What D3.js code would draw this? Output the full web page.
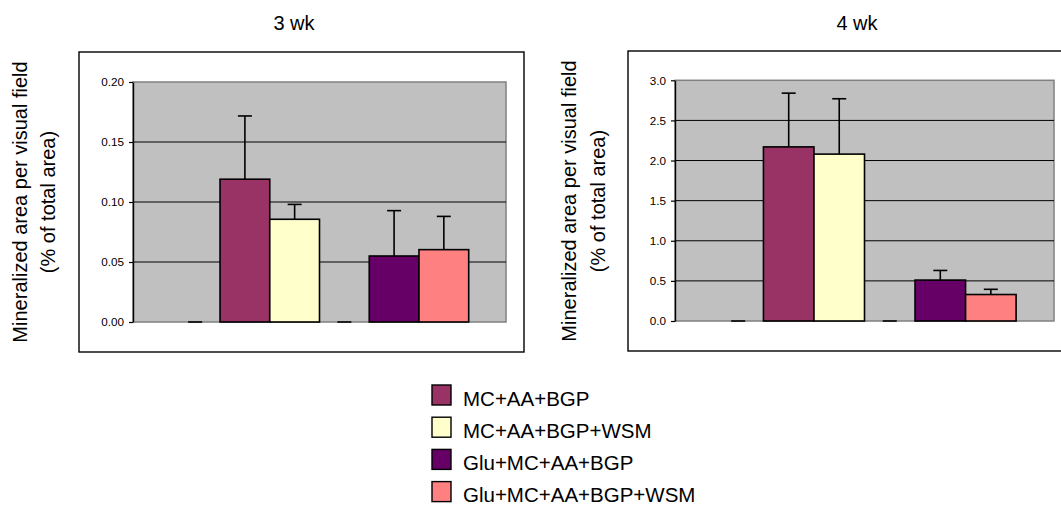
<!DOCTYPE html>
<html>
<head>
<meta charset="utf-8">
<script src="https://cdn.jsdelivr.net/npm/d3@7"></script>
<style>
  body { margin: 0; background: #fff; }
  svg { display: block; font-family: "Liberation Sans", Arial, sans-serif; }
</style>
</head>
<body>
<svg id="chart" width="1061" height="508"></svg>
<script>
// series in plot order, the two blank ones are zero placeholders (no legend entry)
const seriesNames = ["", "MC+AA+BGP", "MC+AA+BGP+WSM", "", "Glu+MC+AA+BGP", "Glu+MC+AA+BGP+WSM"];
const seriesColors = ["#c0c0c0", "#993366", "#ffffcc", "#c0c0c0", "#660066", "#ff8080"];

const wk3Values = [0, 0.119, 0.0856, 0, 0.055, 0.0603];
const wk3Errors = [0, 0.0527, 0.0124, 0, 0.0378, 0.0277];
const wk3Ticks = [0, 0.05, 0.10, 0.15, 0.20];

const wk4Values = [0, 2.17, 2.08, 0, 0.51, 0.33];
const wk4Errors = [0, 0.67, 0.69, 0, 0.12, 0.065];
const wk4Ticks = [0, 0.5, 1.0, 1.5, 2.0, 2.5, 3.0];

const yTitle = ["Mineralized area per visual field", "(% of total area)"];

const svg = d3.select("#chart");

function drawPanel(opt) {
    const g = svg.append("g");

    // outer chart box
    g.append("rect")
        .attr("x", opt.box[0]).attr("y", opt.box[1])
        .attr("width", opt.box[2]).attr("height", opt.box[3])
        .attr("fill", "#fff").attr("stroke", "#000").attr("stroke-width", 1.4);

    const x0 = opt.plot[0], y0 = opt.plot[1], w = opt.plot[2], h = opt.plot[3];

    const y = d3.scaleLinear().domain([0, opt.max]).range([y0 + h, y0]);
    const x = d3.scaleBand().domain(d3.range(opt.values.length))
        .range([x0, x0 + w]).paddingInner(0).paddingOuter(0.75);

    // plot area
    g.append("rect")
        .attr("x", x0).attr("y", y0).attr("width", w).attr("height", h)
        .attr("fill", "#c0c0c0").attr("stroke", "#808080").attr("stroke-width", 1.5);

    // gridlines
    g.selectAll(".grid")
        .data(opt.ticks.filter(t => t > 0 && t < opt.max))
        .enter().append("line")
        .attr("x1", x0).attr("x2", x0 + w)
        .attr("y1", d => y(d)).attr("y2", d => y(d))
        .attr("stroke", "#000").attr("stroke-width", 1);

    // bars
    g.selectAll(".bar")
        .data(opt.values.map((v, i) => ({v: v, i: i})).filter(d => d.v > 0))
        .enter().append("rect")
        .attr("x", d => x(d.i))
        .attr("y", d => y(d.v))
        .attr("width", x.bandwidth())
        .attr("height", d => y(0) - y(d.v))
        .attr("fill", d => seriesColors[d.i])
        .attr("stroke", "#000").attr("stroke-width", 1.6);

    // error bars (upper only)
    const errs = g.selectAll(".err")
        .data(opt.values.map((v, i) => ({v: v, e: opt.errors[i], i: i})))
        .enter().append("g");
    errs.append("line")
        .attr("x1", d => x(d.i) + x.bandwidth() / 2)
        .attr("x2", d => x(d.i) + x.bandwidth() / 2)
        .attr("y1", d => y(d.v)).attr("y2", d => y(d.v + d.e))
        .attr("stroke", "#000").attr("stroke-width", 1.6);
    errs.append("line")
        .attr("x1", d => x(d.i) + x.bandwidth() / 2 - 7)
        .attr("x2", d => x(d.i) + x.bandwidth() / 2 + 7)
        .attr("y1", d => y(d.v + d.e)).attr("y2", d => y(d.v + d.e))
        .attr("stroke", "#000").attr("stroke-width", 1.6);

    // y axis
    const axis = g.append("g")
        .attr("transform", "translate(" + x0 + ",0)")
        .call(d3.axisLeft(y).tickValues(opt.ticks).tickFormat(d3.format(opt.fmt))
            .tickSizeInner(4).tickSizeOuter(0).tickPadding(5));
    axis.select(".domain").attr("stroke", "#000").attr("stroke-width", 1.4);
    axis.selectAll(".tick line").attr("stroke", "#000").attr("stroke-width", 1.2);
    axis.selectAll(".tick text")
        .attr("font-family", "'Liberation Sans', Arial, sans-serif")
        .attr("font-size", 11.7).attr("fill", "#000");

    // axis title, two rotated lines
    g.selectAll(".ytitle")
        .data(yTitle)
        .enter().append("text")
        .attr("transform", (d, i) => "translate(" + opt.titleX[i] + "," + opt.titleY + ") rotate(-90)")
        .attr("text-anchor", "middle")
        .attr("font-size", 20)
        .attr("fill", "#000")
        .text(d => d);

    // chart title
    g.append("text")
        .attr("x", opt.headX).attr("y", 30)
        .attr("text-anchor", "middle")
        .attr("font-size", 20)
        .text(opt.head);
}

drawPanel({
    head: "3 wk", headX: 294,
    box: [79, 52, 445, 300],
    plot: [133, 82, 373, 240],
    max: 0.20, ticks: wk3Ticks, fmt: ".2f",
    values: wk3Values, errors: wk3Errors,
    titleX: [27, 55], titleY: 202
});

drawPanel({
    head: "4 wk", headX: 857,
    box: [628, 51, 440, 300],
    plot: [675, 80.3, 379, 240.7],
    max: 3.0, ticks: wk4Ticks, fmt: ".1f",
    values: wk4Values, errors: wk4Errors,
    titleX: [576, 605], titleY: 201
});

// legend (blank series left out)
const legendItems = seriesNames.map((n, i) => ({name: n, color: seriesColors[i]}))
    .filter(d => d.name !== "");

const legend = svg.append("g");
const rows = legend.selectAll(".row")
    .data(legendItems)
    .enter().append("g")
    .attr("transform", (d, i) => "translate(432," + (385 + i * 32.2) + ")");
rows.append("rect")
    .attr("width", 19).attr("height", 20)
    .attr("fill", d => d.color)
    .attr("stroke", "#000").attr("stroke-width", 1.4);
rows.append("text")
    .attr("x", 31).attr("y", 20.5)
    .attr("font-size", 20.5)
    .text(d => d.name);
</script>
</body>
</html>
